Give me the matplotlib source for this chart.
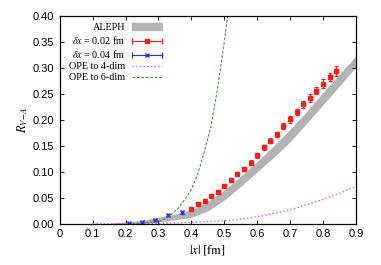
import numpy as np
import matplotlib
matplotlib.use("Agg")
import matplotlib.pyplot as plt
from matplotlib.patches import Patch
from matplotlib.lines import Line2D
from matplotlib.legend_handler import HandlerLine2D, HandlerTuple

plt.rcParams["font.family"] = "Liberation Sans"
plt.rcParams["mathtext.fontset"] = "stix"

# ALEPH band (lower / upper edge)
aleph_x = [0.15, 0.2, 0.25, 0.3, 0.35, 0.4, 0.45, 0.5, 0.55, 0.6, 0.65, 0.7, 0.75, 0.8, 0.85, 0.9]
aleph_lo = [0.0, 0.0, 0.001, 0.004, 0.008, 0.013, 0.025, 0.046, 0.072, 0.100, 0.128, 0.158, 0.193, 0.229, 0.265, 0.302]
aleph_hi = [0.001, 0.004, 0.007, 0.013, 0.019, 0.027, 0.043, 0.065, 0.092, 0.120, 0.150, 0.182, 0.216, 0.253, 0.288, 0.323]

# lattice, dx = 0.02 fm
red_x = [0.40, 0.42, 0.44, 0.46, 0.48, 0.50, 0.52, 0.54, 0.56, 0.58, 0.60, 0.62,
         0.64, 0.66, 0.68, 0.70, 0.72, 0.74, 0.76, 0.78, 0.80, 0.82, 0.84]
red_y = [0.029, 0.038, 0.044, 0.054, 0.062, 0.073, 0.085, 0.096, 0.105, 0.118, 0.132, 0.147,
         0.160, 0.172, 0.188, 0.201, 0.215, 0.230, 0.242, 0.256, 0.270, 0.282, 0.294]
red_err = [0.002, 0.002, 0.002, 0.003, 0.003, 0.003, 0.003, 0.004, 0.004, 0.004, 0.005, 0.005,
           0.005, 0.005, 0.006, 0.006, 0.006, 0.007, 0.007, 0.007, 0.008, 0.008, 0.009]

# lattice, dx = 0.04 fm
blue_x = [0.21, 0.25, 0.29, 0.33, 0.37]
blue_y = [0.001, 0.004, 0.008, 0.017, 0.022]
blue_err = [0.001, 0.001, 0.001, 0.002, 0.002]

# OPE curves
ope4_x = [0.10, 0.30, 0.40, 0.50, 0.55, 0.60, 0.65, 0.70, 0.75, 0.80, 0.85, 0.90]
ope4_y = [0.0, 0.001, 0.003, 0.006, 0.009, 0.014, 0.020, 0.027, 0.037, 0.047, 0.059, 0.072]
ope6_x = [0.22, 0.26, 0.30, 0.32, 0.34, 0.36, 0.38, 0.40, 0.42, 0.44, 0.46, 0.48, 0.50, 0.51]
ope6_y = [0.0, 0.002, 0.0045, 0.010, 0.019, 0.030, 0.047, 0.066, 0.097, 0.140, 0.189, 0.262, 0.350, 0.400]

RED = "#ff1a1a"
BLUE = "#2b2bff"
VIOLET = "#d25cf5"
GREEN = "#3f9a3f"
GRAY = "#b3b3b3"

fig = plt.figure(figsize=(3.81, 2.65), dpi=100)
ax = fig.add_axes([0.157, 0.155, 0.777, 0.785])

ax.fill_between(aleph_x, aleph_lo, aleph_hi, color=GRAY, lw=0)
ax.errorbar(red_x, red_y, yerr=red_err, fmt="s", color=RED, ms=2.8,
            elinewidth=0.8, capsize=1.5, capthick=0.8)
ax.errorbar(blue_x, blue_y, yerr=blue_err, fmt="x", color=BLUE, ms=3,
            mew=1, elinewidth=0.8, capsize=1.5, capthick=0.8)
ax.plot(ope4_x, ope4_y, ":", color=VIOLET, lw=1)
ax.plot(ope6_x, ope6_y, "--", color=GREEN, lw=0.8, dashes=(2.5, 1.5))

ax.set_xlim(0, 0.9)
ax.set_ylim(0, 0.4)
ax.set_xticks(np.arange(0, 0.91, 0.1))
ax.set_xticklabels(["0"] + [f"{v:.1f}" for v in np.arange(0.1, 0.91, 0.1)])
ax.set_yticks(np.arange(0, 0.401, 0.05))
ax.set_yticklabels([f"{v:.2f}" for v in np.arange(0, 0.401, 0.05)])
ax.tick_params(direction="in", top=True, right=True, length=3, width=0.6,
               labelsize=8, pad=4)
for s in ax.spines.values():
    s.set_linewidth(0.9)

ax.set_xlabel(r"$|x|\ [\mathrm{fm}]$", fontsize=9, labelpad=3)
ax.set_ylabel(r"$R_{V\!-\!A}$", fontsize=9, labelpad=2)

# gnuplot-like legend keys: line with centre marker and end caps
red_line = Line2D([], [], color=RED, lw=0.8, marker="s", ms=2.8)
red_caps = Line2D([], [], color=RED, ls="none", marker="|", ms=4, mew=0.8)
blue_line = Line2D([], [], color=BLUE, lw=0.8, marker="x", ms=3, mew=1)
blue_caps = Line2D([], [], color=BLUE, ls="none", marker="|", ms=4, mew=0.8)
ope4_h = Line2D([], [], ls=":", color=VIOLET, lw=1)
ope6_h = Line2D([], [], ls="--", color=GREEN, lw=0.8, dashes=(2.5, 1.5))
caps_handler = HandlerLine2D(numpoints=2, marker_pad=0)
handles = [Patch(color=GRAY), (red_line, red_caps), (blue_line, blue_caps), ope4_h, ope6_h]
labels = ["ALEPH", r"$\delta x$ = 0.02 fm", r"$\delta x$ = 0.04 fm",
          "OPE to 4-dim", "OPE to 6-dim"]
ax.legend(handles, labels, loc="upper left", bbox_to_anchor=(0.017, 0.985),
          frameon=False, markerfirst=False, handlelength=2.95, handleheight=0.55,
          labelspacing=0.2, handletextpad=0.69, borderaxespad=0, numpoints=1,
          handler_map={red_caps: caps_handler, blue_caps: caps_handler,
                       tuple: HandlerTuple(ndivide=1, pad=0)},
          prop={"family": "Liberation Serif", "size": 7.3})

fig.savefig("out.png", dpi=100)
